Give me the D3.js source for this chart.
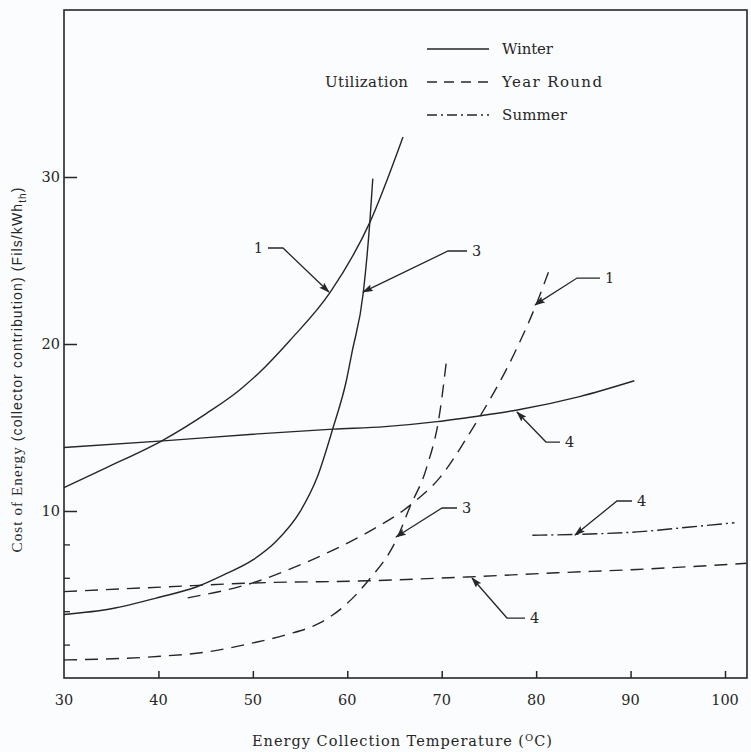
<!DOCTYPE html>
<html>
<head>
<meta charset="utf-8">
<script src="https://cdn.jsdelivr.net/npm/d3@7"></script>
<style>
  body { margin: 0; background: #fbfcfd; }
  svg text { font-family: "DejaVu Serif", serif; fill: #262626; }
</style>
</head>
<body>
<svg id="chart"></svg>
<script>
// Chart dimensions
const width = 751;
const height = 752;

// Axis ticks
const xTicks = [30, 40, 50, 60, 70, 80, 90, 100];
const yTicks = [10, 20, 30];
const yMinorTicks = [2, 4, 6, 8];

// Winter utilization (solid)
const winter1T = [30, 34.5, 40.5, 45.1, 48.6, 50.7, 53.9, 58.2, 62.4, 65.9];
const winter1V = [11.4, 12.6, 14.25, 15.85, 17.25, 18.3, 20.2, 23.1, 27.3, 32.4];
const winter3T = [30, 35, 40.2, 44, 47, 50, 52.5, 55, 56.8, 58.5, 59.9, 60.5, 61.7, 62.4, 62.7];
const winter3V = [3.8, 4.15, 4.85, 5.45, 6.2, 7.07, 8.2, 9.96, 12.0, 15.0, 17.8, 19.5, 23.1, 27.4, 29.9];
const winter4T = [30, 40.5, 50, 58.5, 64, 69.5, 74.6, 78, 84.6, 90.4];
const winter4V = [13.8, 14.2, 14.6, 14.9, 15.05, 15.35, 15.75, 16.05, 16.85, 17.8];

// Year round utilization (dashed)
const year1T = [43.1, 50, 55, 58.5, 62.1, 67, 69.8, 73, 78, 80.1, 81.3];
const year1V = [4.8, 5.7, 6.77, 7.66, 8.7, 10.5, 12.0, 14.7, 19.8, 22.5, 24.3];
const year3T = [30, 40.2, 45, 50, 53.6, 57.1, 59.6, 62.1, 65.3, 66.6, 68.4, 69.8, 70.5];
const year3V = [1.08, 1.3, 1.55, 2.1, 2.6, 3.3, 4.27, 5.75, 8.4, 10.2, 12.6, 15.9, 19.0];
const year4T = [30, 40.9, 50, 62.1, 72.7, 82.2, 90.7, 102.3];
const year4V = [5.17, 5.46, 5.69, 5.82, 6.05, 6.3, 6.5, 6.87];

// Summer utilization (dash-dot)
const summer4T = [79.6, 84.3, 90.7, 96.3, 101];
const summer4V = [8.55, 8.6, 8.75, 9.04, 9.3];

// Curve labels: text, leader start, elbow, arrow tip (in data units)
const noteLabels = ["1", "3", "1", "4", "3", "4", "4"];
const noteStartT = [51.6, 72.68, 86.76, 82.53, 71.62, 90.15, 78.82];
const noteStartV = [25.75, 25.57, 23.95, 14.13, 10.18, 10.6, 3.59];
const noteElbowT = [53.19, 70.67, 84.33, 81.04, 70.03, 88.56, 76.91];
const noteTipT = [58.06, 61.66, 79.88, 77.97, 65.16, 84.11, 73.21];
const noteTipV = [23.11, 23.11, 22.34, 15.93, 8.44, 8.56, 5.99];

const solid = null;
const dashed = "13,8";
const dashDot = "15,4,2,4";

const series = [
    { t: winter1T, v: winter1V, dash: solid },
    { t: winter3T, v: winter3V, dash: solid },
    { t: winter4T, v: winter4V, dash: solid },
    { t: year1T, v: year1V, dash: dashed },
    { t: year3T, v: year3V, dash: dashed },
    { t: year4T, v: year4V, dash: dashed },
    { t: summer4T, v: summer4V, dash: dashDot }
];

const ink = "#262626";

const x = d3.scaleLinear().domain([30, 100]).range([64, 725]);
const y = d3.scaleLinear().domain([0, 40]).range([678, 10]);
const xMax = 102.33;

const svg = d3.select("#chart")
    .attr("width", width)
    .attr("height", height);

svg.append("defs").append("marker")
    .attr("id", "arrow")
    .attr("markerUnits", "userSpaceOnUse")
    .attr("markerWidth", 11)
    .attr("markerHeight", 7)
    .attr("refX", 10)
    .attr("refY", 3.5)
    .attr("orient", "auto")
    .append("path")
    .attr("d", "M0,0 L11,3.5 L0,7 L2,3.5 z")
    .attr("fill", ink);

// Frame
svg.append("rect")
    .attr("x", x(30))
    .attr("y", y(40))
    .attr("width", x(xMax) - x(30))
    .attr("height", y(0) - y(40))
    .attr("fill", "none")
    .attr("stroke", ink)
    .attr("stroke-width", 1.6);

// Bottom axis, ticks point inward
const xAxis = svg.append("g")
    .attr("transform", `translate(0, ${y(0)})`)
    .call(d3.axisTop(x).tickValues(xTicks.slice(1)).tickSize(7).tickFormat(""));
xAxis.select(".domain").remove();
xAxis.selectAll("line").attr("stroke", ink).attr("stroke-width", 1.5);

svg.append("g")
    .selectAll("text")
    .data(xTicks)
    .join("text")
    .attr("x", d => x(d))
    .attr("y", y(0) + 27)
    .attr("text-anchor", "middle")
    .attr("font-size", 14.5)
    .text(d => d);

// Left axis, ticks point inward
const yAxis = svg.append("g")
    .attr("transform", `translate(${x(30)}, 0)`)
    .call(d3.axisRight(y).tickValues(yTicks).tickSize(13).tickFormat(""));
yAxis.select(".domain").remove();
yAxis.selectAll("line").attr("stroke", ink).attr("stroke-width", 1.5);

const yMinor = svg.append("g")
    .attr("transform", `translate(${x(30)}, 0)`)
    .call(d3.axisRight(y).tickValues(yMinorTicks).tickSize(6).tickFormat(""));
yMinor.select(".domain").remove();
yMinor.selectAll("line").attr("stroke", ink).attr("stroke-width", 1.3);

svg.append("g")
    .selectAll("text")
    .data(yTicks)
    .join("text")
    .attr("x", x(30) - 4)
    .attr("y", d => y(d) + 5)
    .attr("text-anchor", "end")
    .attr("font-size", 14.5)
    .text(d => d);

// Axis titles
svg.append("text")
    .attr("x", 402)
    .attr("y", 746)
    .attr("text-anchor", "middle")
    .attr("font-size", 14.5)
    .attr("textLength", 300)
    .attr("lengthAdjust", "spacing")
    .text("Energy Collection Temperature (")
    .call(t => t.append("tspan").attr("font-size", 10).attr("dy", -5).text("O"))
    .call(t => t.append("tspan").attr("dy", 5).text("C)"));

const yTitle = svg.append("text")
    .attr("transform", "translate(22, 370) rotate(-90)")
    .attr("text-anchor", "middle")
    .attr("font-size", 15)
    .attr("textLength", 365)
    .attr("lengthAdjust", "spacing");
yTitle.append("tspan")
    .style("font-family", "'Liberation Serif', serif")
    .text("Cost of Energy ");
yTitle.append("tspan")
    .style("font-family", "'Liberation Sans', sans-serif")
    .attr("font-size", 14)
    .text("(collector contribution)  (Fils/kWh");
yTitle.append("tspan")
    .style("font-family", "'Liberation Sans', sans-serif")
    .attr("font-size", 10)
    .attr("dy", 4)
    .text("th");
yTitle.append("tspan")
    .style("font-family", "'Liberation Sans', sans-serif")
    .attr("font-size", 14)
    .attr("dy", -4)
    .text(")");

// Curves
const line = d3.line()
    .x(d => x(d[0]))
    .y(d => y(d[1]))
    .curve(d3.curveMonotoneX);

svg.append("g")
    .selectAll("path")
    .data(series)
    .join("path")
    .attr("d", s => line(s.t.map((t, i) => [t, s.v[i]])))
    .attr("fill", "none")
    .attr("stroke", ink)
    .attr("stroke-width", 1.4)
    .attr("stroke-dasharray", s => s.dash);

// Curve labels with leader arrows
const notes = svg.append("g");
noteLabels.forEach((label, i) => {
    const sx = x(noteStartT[i]), sy = y(noteStartV[i]);
    const ex = x(noteElbowT[i]);
    notes.append("path")
        .attr("d", `M${sx},${sy} L${ex},${sy} L${x(noteTipT[i])},${y(noteTipV[i])}`)
        .attr("fill", "none")
        .attr("stroke", ink)
        .attr("stroke-width", 1.3)
        .attr("marker-end", "url(#arrow)");
    const leftSide = ex > sx;
    notes.append("text")
        .attr("x", leftSide ? sx - 5 : sx + 5)
        .attr("y", sy + 5)
        .attr("text-anchor", leftSide ? "end" : "start")
        .attr("font-size", 14.5)
        .text(label);
});

// Legend
const legendNames = ["Winter", "Year Round", "Summer"];
const legendWidths = [51, 100, 65];
const legendDash = [solid, "10,7", "10,4,2,4"];
const legendY = [49, 82, 115];

const legend = svg.append("g");
legendNames.forEach((name, i) => {
    legend.append("line")
        .attr("x1", 427)
        .attr("x2", 489)
        .attr("y1", legendY[i])
        .attr("y2", legendY[i])
        .attr("stroke", ink)
        .attr("stroke-width", 1.4)
        .attr("stroke-dasharray", legendDash[i]);
    legend.append("text")
        .attr("x", 502)
        .attr("y", legendY[i] + 5)
        .attr("font-size", 15)
        .attr("textLength", legendWidths[i])
        .attr("lengthAdjust", "spacing")
        .text(name);
});
legend.append("text")
    .attr("x", 325)
    .attr("y", legendY[1] + 5)
    .attr("font-size", 15)
    .attr("textLength", 83)
    .attr("lengthAdjust", "spacing")
    .text("Utilization");
</script>
</body>
</html>
